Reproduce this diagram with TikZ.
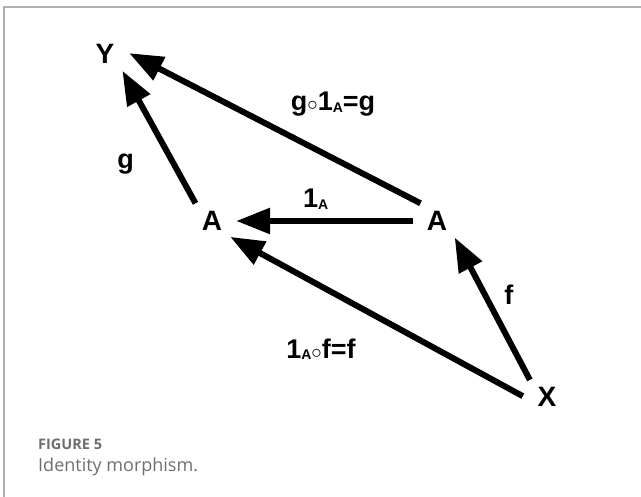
\documentclass[tikz,border=0pt]{standalone}
\usepackage{fontspec}
\setmainfont{Liberation Sans}
\newfontfamily\capfont{Open Sans}
\usepackage{xcolor}
\usetikzlibrary{arrows.meta}

\definecolor{framegray}{HTML}{B0B0B0}
\definecolor{capgray}{HTML}{6E6E6E}
\newcommand{\subA}{\raisebox{-1.5pt}{\fontsize{14}{14}\selectfont A}}
\newcommand{\comp}{{\fontsize{22}{22}\selectfont$\circ$}}

\begin{document}
\begin{tikzpicture}[
    x=1pt, y=-1pt,
    obj/.style={circle, inner sep=0pt, minimum size=48pt, font=\fontsize{28}{28}\selectfont\bfseries},
    lbl/.style={inner sep=0pt, font=\fontsize{27}{27}\selectfont\bfseries},
    mor/.style={line width=6pt, -{Triangle[length=34pt, width=25pt]}},
    captext/.style={anchor=base west, inner sep=0pt, text=capgray}
]
    \useasboundingbox (0,0) rectangle (641,497);
    \draw [framegray, line width=1.5pt] (4,497) -- (4,7) -- (641,7);

    \node [obj] (Y) at (105,54) {Y};
    \node [obj] (A1) at (212,221) {A};
    \node [obj] (A2) at (437,221) {A};
    \node [obj] (X) at (547,397) {X};

    \draw [mor] (A1.133) -- node[lbl, pos=.3, xshift=-48pt, yshift=-1pt] {g} (Y.316);
    \draw [mor] (A2.133) -- node[lbl, pos=.3, yshift=54pt] {g\comp1\subA=g} (Y.2);
    \draw [mor] (A2) -- node[lbl, pos=.55, yshift=22pt] {1\subA} (A1);
    \draw [mor] (X.178) -- node[lbl, pos=.69, yshift=-63pt] {1\subA\comp f=f} (A1.319);
    \draw [mor] (X.135) -- node[lbl, pos=.6, xshift=24pt] {f} (A2.317);

    % caption
    \node [captext, font=\capfont\bfseries\fontsize{14.5}{15}\selectfont] (fig) at (38,450) {FIGURE 5};
    \node [captext, font=\capfont\fontsize{18}{20}\selectfont] (title) at (38,472) {Identity morphism.};
\end{tikzpicture}
\end{document}
